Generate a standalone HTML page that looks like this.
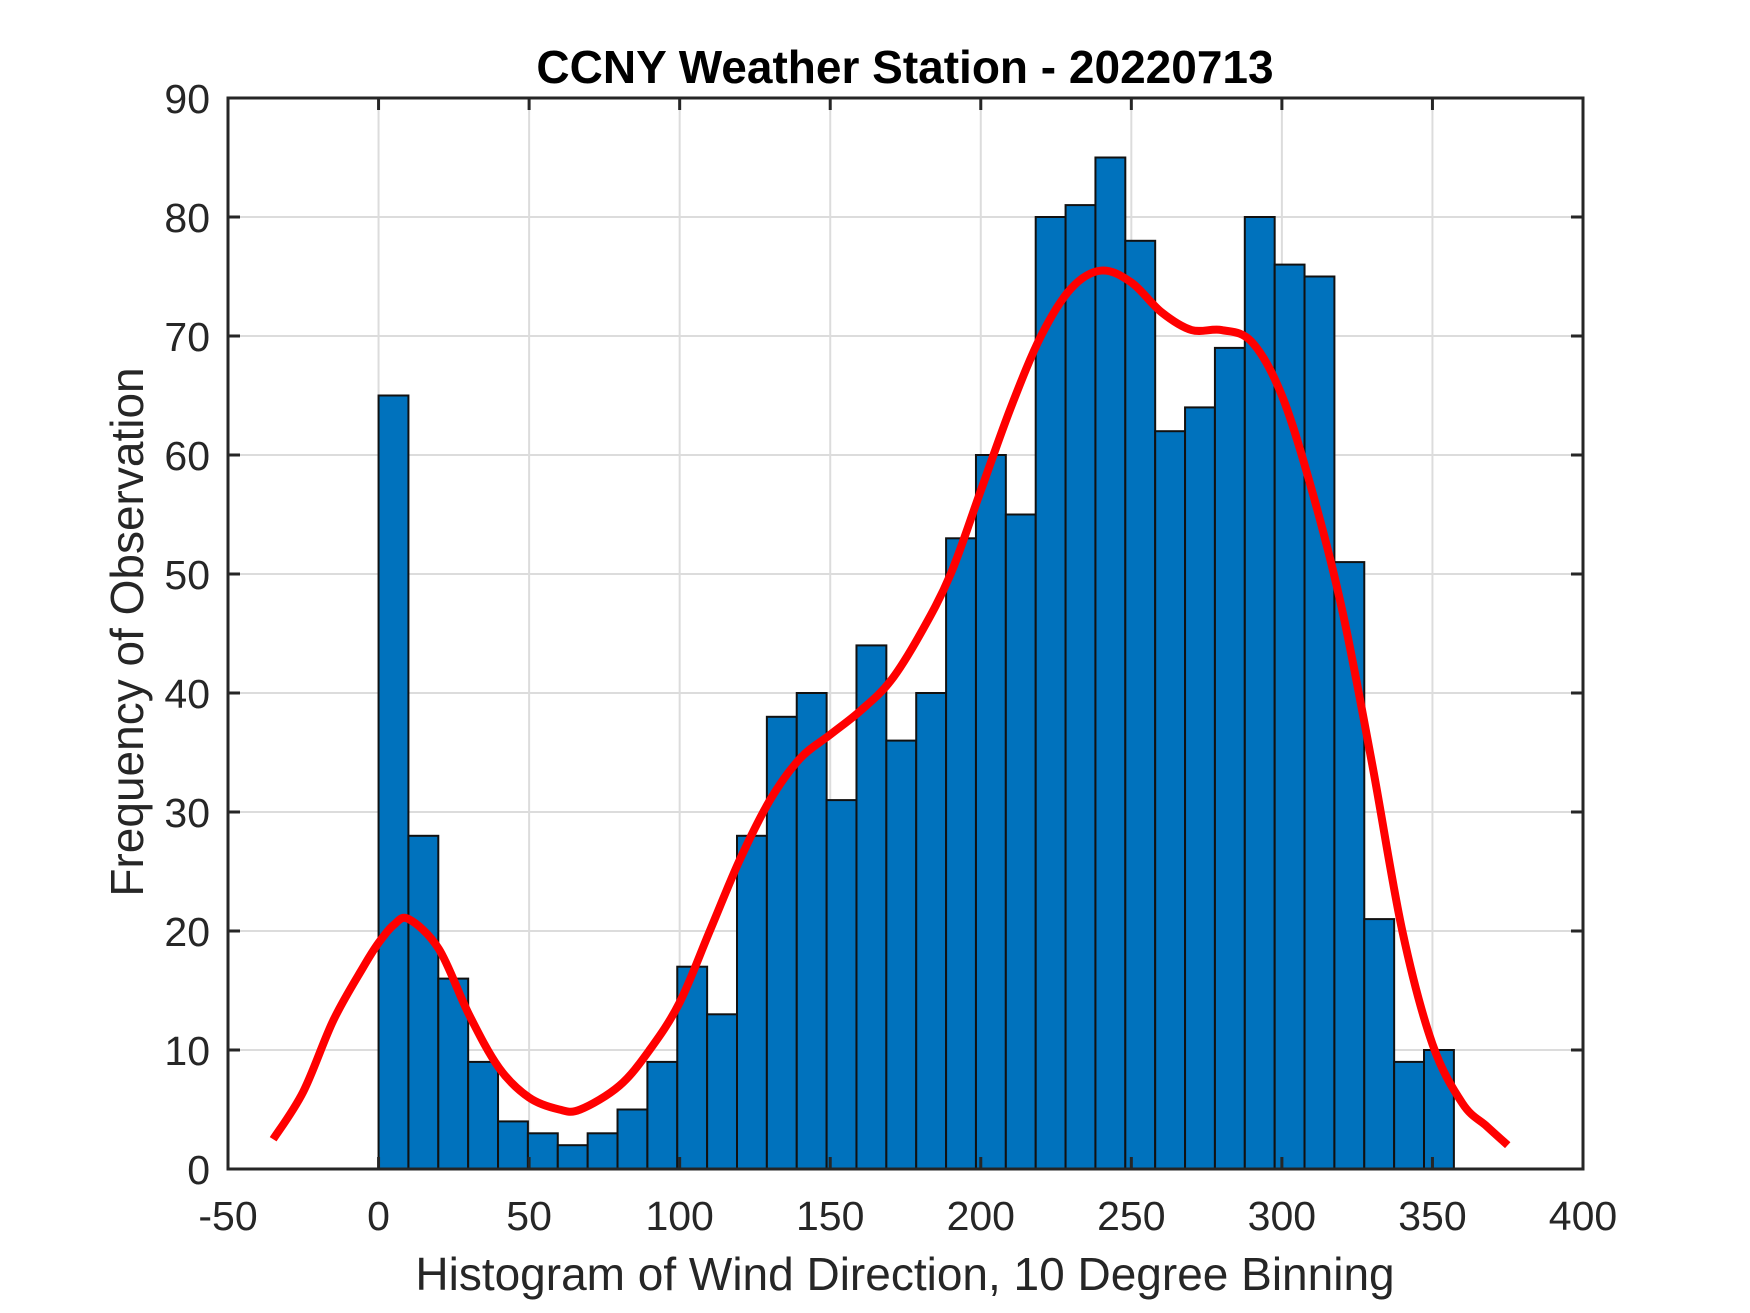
<!DOCTYPE html>
<html><head><meta charset="utf-8"><style>
html,body{margin:0;padding:0;background:#fff}
svg{display:block;font-family:"Liberation Sans",Arial,sans-serif}
</style></head><body>
<svg id="chart" width="1750" height="1313" viewBox="0 0 1750 1313"></svg>
<script>
const binStarts=[0,10,20,30,40,50,60,70,80,90,100,110,120,130,140,150,160,170,180,190,200,210,220,230,240,250,260,270,280,290,300,310,320,330,340,350];
const counts=[65,28,16,9,4,3,2,3,5,9,17,13,28,38,40,31,44,36,40,53,60,55,80,81,85,78,62,64,69,80,76,75,51,21,9,10];
const curveX=[-35,-25,-15,-5,0,5,10,20,30,40,50,60,67,80,90,100,110,120,130,140,150,160,170,180,190,200,210,220,230,240,250,260,270,280,290,300,310,320,330,340,350,360,368,375];
const curveY=[2.5,6.5,12.5,17,19,20.5,21,18.5,13,8.5,6,5,5,7,10,14,20,26,31,34.5,36.5,38.5,41,45,50,57,64,70,74,75.5,74.5,72,70.5,70.5,69.5,65,57,47,34,20,10.5,5.5,3.6,2];
const xTicks=[-50,0,50,100,150,200,250,300,350,400];
const yTicks=[0,10,20,30,40,50,60,70,80,90];
const binWidth=9.92;
const L=228,R=1583,T=98,B=1169;
const xs=v=>L+(v+50)/450*(R-L);
const ys=v=>B-v/90*(B-T);
const svg=document.getElementById('chart');
const NS='http://www.w3.org/2000/svg';
function mk(tag,attrs,parent){const e=document.createElementNS(NS,tag);for(const k in attrs)e.setAttribute(k,attrs[k]);(parent||svg).appendChild(e);return e;}
const grid=mk('g',{});


xTicks.forEach(t=>{if(t>-50&&t<400)mk('line',{x1:xs(t),x2:xs(t),y1:T,y2:B,stroke:'#dcdcdc','stroke-width':2},grid);});
yTicks.forEach(t=>{if(t>0&&t<90)mk('line',{x1:L,x2:R,y1:ys(t),y2:ys(t),stroke:'#dcdcdc','stroke-width':2},grid);});
const bars=mk('g',{});


counts.forEach((c,i)=>{
  const x0=xs(i*binWidth),x1=xs((i+1)*binWidth);
  const r=mk('rect',{x:x0,y:ys(c),width:x1-x0,height:ys(0)-ys(c),fill:'#0072bd',stroke:'#111','stroke-width':2},bars);
  
  
});
const pts=curveX.map((x,i)=>[xs(x),ys(curveY[i])]);
let d='M'+pts[0][0]+','+pts[0][1];
for(let i=0;i<pts.length-1;i++){
  const p0=pts[Math.max(0,i-1)],p1=pts[i],p2=pts[i+1],p3=pts[Math.min(pts.length-1,i+2)];
  d+=' C'+(p1[0]+(p2[0]-p0[0])/6)+','+(p1[1]+(p2[1]-p0[1])/6)+' '+(p2[0]-(p3[0]-p1[0])/6)+','+(p2[1]-(p3[1]-p1[1])/6)+' '+p2[0]+','+p2[1];
}
const curve=mk('path',{d:d,fill:'none',stroke:'#ff0000','stroke-width':8,'stroke-linejoin':'round'});


const ax=mk('g',{});


mk('rect',{x:L,y:T,width:R-L,height:B-T,fill:'none',stroke:'#262626','stroke-width':3},ax);
xTicks.forEach(t=>{
  mk('line',{x1:xs(t),x2:xs(t),y1:B,y2:B-12,stroke:'#262626','stroke-width':3},ax);
  mk('line',{x1:xs(t),x2:xs(t),y1:T,y2:T+12,stroke:'#262626','stroke-width':3},ax);
  const tx=mk('text',{x:xs(t),y:1230,'text-anchor':'middle','font-size':41,fill:'#262626'},ax);
  tx.textContent=t;
  
  
});
yTicks.forEach(t=>{
  mk('line',{x1:L,x2:L+12,y1:ys(t),y2:ys(t),stroke:'#262626','stroke-width':3},ax);
  mk('line',{x1:R,x2:R-12,y1:ys(t),y2:ys(t),stroke:'#262626','stroke-width':3},ax);
  const tx=mk('text',{x:210,y:ys(t)+15,'text-anchor':'end','font-size':41,fill:'#262626'},ax);
  tx.textContent=t;
  
  
});
</script>
<div style="position:absolute;left:0;top:0;width:1750px;height:1313px;pointer-events:none">
<svg width="1750" height="1313" style="font-family:'Liberation Sans',Arial,sans-serif">
<text x="905" y="83" text-anchor="middle" font-size="46" font-weight="bold" fill="#000">CCNY Weather Station - 20220713</text>
<text x="905" y="1290" text-anchor="middle" font-size="46" fill="#262626">Histogram of Wind Direction, 10 Degree Binning</text>
<text x="0" y="0" transform="translate(143,632) rotate(-90)" text-anchor="middle" font-size="46" fill="#262626">Frequency of Observation</text>
</svg></div>
</body></html>
